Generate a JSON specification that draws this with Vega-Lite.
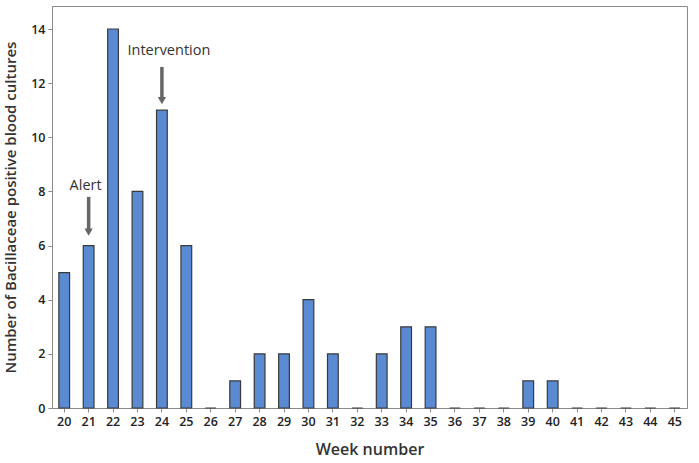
{
  "$schema": "https://vega.github.io/schema/vega-lite/v6.json",
  "width": 635,
  "height": 402,
  "autosize": {"type": "none"},
  "padding": {"left": 52, "top": 6, "right": 12, "bottom": 55},
  "background": "white",
  "config": {
    "view": {"stroke": "#8a8a8a", "strokeWidth": 1},
    "font": "Open Sans"
  },
  "datasets": {
    "weeks": [
      {"week": 20, "count": 5}, {"week": 21, "count": 6}, {"week": 22, "count": 14},
      {"week": 23, "count": 8}, {"week": 24, "count": 11}, {"week": 25, "count": 6},
      {"week": 26, "count": 0}, {"week": 27, "count": 1}, {"week": 28, "count": 2},
      {"week": 29, "count": 2}, {"week": 30, "count": 4}, {"week": 31, "count": 2},
      {"week": 32, "count": 0}, {"week": 33, "count": 2}, {"week": 34, "count": 3},
      {"week": 35, "count": 3}, {"week": 36, "count": 0}, {"week": 37, "count": 0},
      {"week": 38, "count": 0}, {"week": 39, "count": 1}, {"week": 40, "count": 1},
      {"week": 41, "count": 0}, {"week": 42, "count": 0}, {"week": 43, "count": 0},
      {"week": 44, "count": 0}, {"week": 45, "count": 0}
    ],
    "notes": [
      {"week": 21, "label": "Alert", "ty": 8.2, "y1": 7.8, "y2": 6.5},
      {"week": 24, "label": "Intervention", "ty": 13.2, "y1": 12.6, "y2": 11.35}
    ]
  },
  "layer": [
    {
      "data": {"name": "weeks"},
      "mark": {"type": "bar", "fill": "#5a8bd2", "stroke": "#3a3a3a", "strokeWidth": 1.2},
      "encoding": {
        "x": {
          "field": "week", "type": "ordinal",
          "scale": {"paddingInner": 0.56, "paddingOuter": 0.28},
          "axis": {
            "title": "Week number", "labelAngle": 0,
            "labelFont": "Open Sans", "labelFontSize": 12.5, "labelFontWeight": 600, "labelColor": "#222",
            "titleFont": "Open Sans", "titleFontSize": 16, "titleFontWeight": 600, "titleColor": "#333",
            "titlePadding": 14, "domainColor": "#8a8a8a", "tickColor": "#8a8a8a", "tickSize": 4, "labelPadding": 3
          }
        },
        "y": {
          "field": "count", "type": "quantitative",
          "scale": {"domain": [0, 14.85], "nice": false},
          "axis": {
            "title": "Number of Bacillaceae positive blood cultures",
            "values": [0, 2, 4, 6, 8, 10, 12, 14], "grid": false,
            "labelFont": "Open Sans", "labelFontSize": 12.5, "labelFontWeight": 600, "labelColor": "#222",
            "titleFont": "Open Sans", "titleFontSize": 15, "titleFontWeight": 600, "titleColor": "#333",
            "titlePadding": 12, "domainColor": "#8a8a8a", "tickColor": "#8a8a8a", "tickSize": 4, "labelPadding": 3
          }
        }
      }
    },
    {
      "data": {"name": "notes"},
      "mark": {"type": "rule", "stroke": "#666", "strokeWidth": 3.5},
      "encoding": {
        "x": {"field": "week", "type": "ordinal"},
        "y": {"field": "y1", "type": "quantitative"},
        "y2": {"field": "y2"}
      }
    },
    {
      "data": {"name": "notes"},
      "mark": {"type": "point", "shape": "triangle-down", "filled": true, "fill": "#666", "size": 70, "opacity": 1},
      "encoding": {
        "x": {"field": "week", "type": "ordinal"},
        "y": {"field": "y2", "type": "quantitative"}
      }
    },
    {
      "data": {"name": "notes"},
      "transform": [{"filter": "datum.label == 'Alert'"}],
      "mark": {"type": "text", "font": "Open Sans", "fontSize": 14.5, "color": "#333", "baseline": "middle", "dx": -3},
      "encoding": {
        "x": {"field": "week", "type": "ordinal"},
        "y": {"field": "ty", "type": "quantitative"},
        "text": {"field": "label"}
      }
    },
    {
      "data": {"name": "notes"},
      "transform": [{"filter": "datum.label == 'Intervention'"}],
      "mark": {"type": "text", "font": "Open Sans", "fontSize": 14.5, "color": "#333", "baseline": "middle", "dx": 7},
      "encoding": {
        "x": {"field": "week", "type": "ordinal"},
        "y": {"field": "ty", "type": "quantitative"},
        "text": {"field": "label"}
      }
    }
  ]
}
